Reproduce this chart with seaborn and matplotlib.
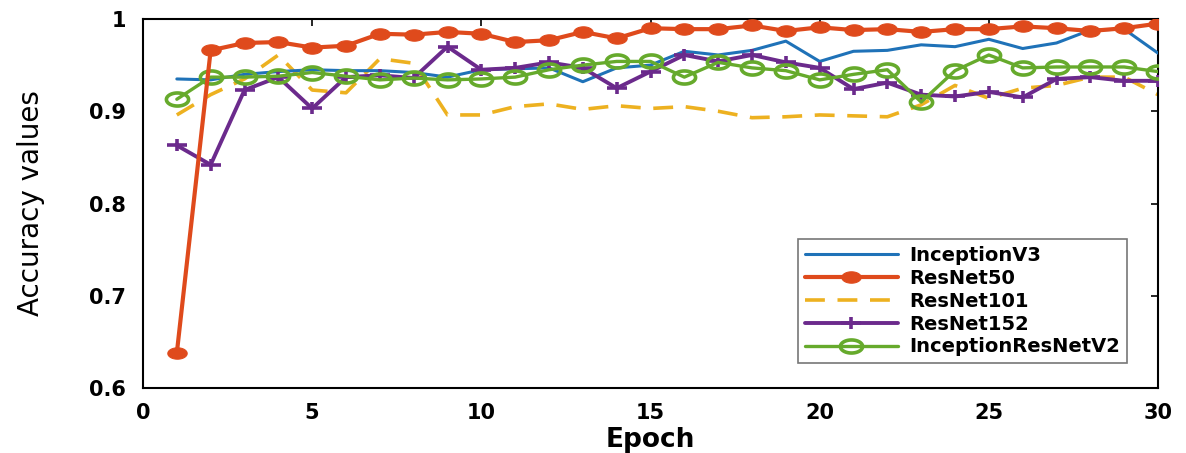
import numpy as np
import pandas as pd
import matplotlib
matplotlib.use("Agg")
import matplotlib.pyplot as plt
from matplotlib.path import Path
import seaborn as sns

epochs = list(range(1, 31))

inception_v3 = [0.935, 0.934, 0.940, 0.943, 0.945, 0.944, 0.944, 0.942, 0.937, 0.945,
                0.946, 0.947, 0.932, 0.947, 0.950, 0.965, 0.961, 0.966, 0.976, 0.954,
                0.965, 0.966, 0.972, 0.970, 0.978, 0.968, 0.974, 0.988, 0.989, 0.963]
resnet50 = [0.638, 0.966, 0.974, 0.975, 0.969, 0.971, 0.984, 0.983, 0.986, 0.984,
            0.975, 0.977, 0.986, 0.979, 0.990, 0.989, 0.989, 0.993, 0.987, 0.991,
            0.988, 0.989, 0.986, 0.989, 0.989, 0.992, 0.990, 0.987, 0.990, 0.995]
resnet101 = [0.896, 0.918, 0.935, 0.961, 0.923, 0.920, 0.957, 0.952, 0.896, 0.896,
             0.905, 0.908, 0.902, 0.906, 0.903, 0.905, 0.900, 0.893, 0.894, 0.896,
             0.895, 0.894, 0.907, 0.928, 0.914, 0.925, 0.928, 0.937, 0.937, 0.918]
resnet152 = [0.863, 0.842, 0.923, 0.937, 0.903, 0.937, 0.939, 0.936, 0.970, 0.945,
             0.947, 0.953, 0.947, 0.925, 0.943, 0.961, 0.954, 0.961, 0.953, 0.947,
             0.924, 0.931, 0.918, 0.916, 0.921, 0.915, 0.935, 0.937, 0.933, 0.933]
inception_resnet_v2 = [0.913, 0.937, 0.937, 0.938, 0.942, 0.938, 0.934, 0.936, 0.934, 0.935,
                       0.937, 0.945, 0.950, 0.954, 0.954, 0.937, 0.953, 0.947, 0.944, 0.934,
                       0.940, 0.945, 0.910, 0.944, 0.961, 0.947, 0.948, 0.948, 0.948, 0.943]

series_names = ["InceptionV3", "ResNet50", "ResNet101", "ResNet152", "InceptionResNetV2"]
x_ticks = [0, 5, 10, 15, 20, 25, 30]
y_ticks = [0.6, 0.7, 0.8, 0.9, 1.0]
y_tick_labels = ["0.6", "0.7", "0.8", "0.9", "1"]

sns.set_theme(style="white")
plt.rcParams["font.family"] = ["DejaVu Sans"]
plt.rcParams["text.color"] = "black"
plt.rcParams["axes.labelcolor"] = "black"

# stretched (elliptical) markers, as in the reference
t = np.linspace(0, 2 * np.pi, 40)
ellipse = Path(np.column_stack([1.7 * np.cos(t), np.sin(t)]), closed=True)
wide_plus = Path([(-1.7, 0), (1.7, 0), (0, -1), (0, 1)],
                 [Path.MOVETO, Path.LINETO, Path.MOVETO, Path.LINETO])

fig = plt.figure(figsize=(11.86, 4.53), dpi=100)
ax = fig.add_axes([143 / 1186, 1 - 388 / 453, (1158 - 143) / 1186, (388 - 19) / 453])

c_blue = "#1F72B8"
c_red = "#DF4A1C"
c_yel = "#EDB120"
c_pur = "#6B2A8C"
c_grn = "#66AA2C"

sns.lineplot(x=epochs, y=inception_v3, ax=ax, color=c_blue, lw=2.2,
             label=series_names[0], zorder=3)
sns.lineplot(x=epochs, y=resnet50, ax=ax, color=c_red, lw=3.0,
             marker=ellipse, markersize=14, markerfacecolor=c_red,
             markeredgecolor=c_red, label=series_names[1], zorder=4)
sns.lineplot(x=epochs, y=resnet101, ax=ax, color=c_yel, lw=2.6,
             label=series_names[2], zorder=2)
ax.lines[-1].set_dashes([5.5, 3.5])
sns.lineplot(x=epochs, y=resnet152, ax=ax, color=c_pur, lw=2.8,
             marker=wide_plus, markersize=14, markeredgewidth=2.6,
             markeredgecolor=c_pur, label=series_names[3], zorder=3)
sns.lineplot(x=epochs, y=inception_resnet_v2, ax=ax, color=c_grn, lw=2.4,
             marker=ellipse, markersize=16, markerfacecolor="none",
             markeredgewidth=2.6, markeredgecolor=c_grn,
             label=series_names[4], zorder=3)

ax.set_xlim(0, 30)
ax.set_ylim(0.6, 1.0)
ax.set_xticks(x_ticks)
ax.set_xticklabels([str(v) for v in x_ticks])
ax.set_yticks(y_ticks)
ax.set_yticklabels(y_tick_labels)
ax.tick_params(axis="both", direction="in", length=5, width=1.2, colors="black",
               top=True, right=True, labelsize=15)
ax.tick_params(axis="x", pad=11)
ax.tick_params(axis="y", pad=12)
for lab in ax.get_xticklabels() + ax.get_yticklabels():
    lab.set_fontweight("bold")
for sp in ax.spines.values():
    sp.set_visible(True)
    sp.set_color("black")
    sp.set_linewidth(1.5)

ax.set_xlabel("Epoch", fontsize=19, fontweight="bold", labelpad=3, color="black")
ax.set_ylabel("Accuracy values", fontsize=20, color="black",
              family=["DejaVu Sans"], labelpad=32)

leg = ax.legend(loc="lower right", bbox_to_anchor=((1137 - 143) / 1015, (388 - 373) / 369),
                fontsize=14, frameon=True, fancybox=False, handlelength=4.8,
                borderpad=0.35, labelspacing=0.2, handletextpad=0.6)
leg.get_frame().set_edgecolor("#555555")
leg.get_frame().set_linewidth(1.2)
for txt in leg.get_texts():
    txt.set_fontweight("bold")
    txt.set_color("black")

fig.savefig("out.png", dpi=100, facecolor="white")
